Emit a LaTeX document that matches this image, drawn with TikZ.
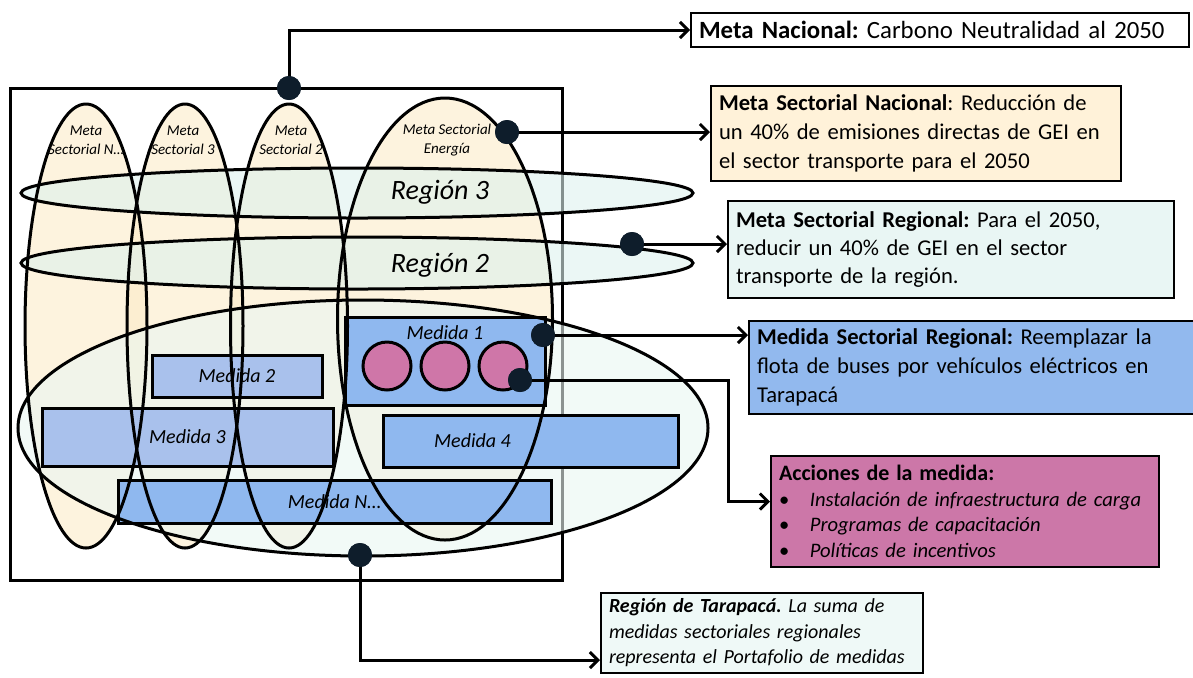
\documentclass[tikz,border=0pt]{standalone}
\usepackage{fontspec}
\setmainfont{Carlito}
\usetikzlibrary{shapes.geometric, arrows.meta, positioning}
\frenchspacing
\definecolor{cream}{HTML}{FBEBC8}
\definecolor{mint}{HTML}{DDF1EE}
\definecolor{palemint}{HTML}{EAF6F2}
\definecolor{medblue}{HTML}{8FB8EF}
\definecolor{medlav}{HTML}{A9C1EC}
\definecolor{rosa}{HTML}{CF76A8}
\definecolor{navy}{HTML}{0E1D2B}
\definecolor{boxcream}{HTML}{FFF2D9}
\definecolor{boxmint}{HTML}{E9F6F4}
\definecolor{boxblue}{HTML}{92B9EE}
\definecolor{boxrosa}{HTML}{CC77A8}
\definecolor{boxpale}{HTML}{EFF9F7}

\begin{document}
\begin{tikzpicture}[
    x=0.5pt, y=-0.5pt,
    line width=1.5pt,
    ellfill/.style={ellipse, fill=#1, fill opacity=0.6, inner sep=0pt},
    ellline/.style={ellipse, draw, inner sep=0pt},
    medida/.style={rectangle, draw, fill=#1, inner sep=0pt, font=\fontsize{10}{12}\selectfont\itshape},
    accion/.style={circle, draw, fill=rosa, minimum size=24pt, inner sep=0pt},
    dot/.style={circle, fill=navy, minimum size=12pt, inner sep=0pt},
    infobox/.style={rectangle, draw, line width=1pt, fill=#1, anchor=north west, align=left, inner xsep=4pt, inner ysep=2pt, font=\fontsize{11.3}{14.5}\selectfont},
    sectlabel/.style={align=center, font=\fontsize{7.5}{9.5}\selectfont\itshape},
    reglabel/.style={font=\fontsize{14}{16}\selectfont\itshape},
    arrow/.style={-{Straight Barb[length=4pt, width=8pt]}, line width=1.5pt}
]
    \useasboundingbox (0,0) rectangle (1193,677);

    % Frame of the region
    \node[rectangle, draw, minimum width=276pt, minimum height=246pt, inner sep=0pt] (frame) at (286,334) {};

    % Sector goals (fill)
    \node[ellfill=cream, minimum width=61pt, minimum height=222pt] at (86,326) {};
    \node[ellfill=cream, minimum width=58pt, minimum height=222pt] at (185,326) {};
    \node[ellfill=cream, minimum width=58.5pt, minimum height=222pt] at (289,326) {};
    \node[ellfill=cream, minimum width=107.5pt, minimum height=221pt] at (445,319) {};

    % Regions (fill)
    \node[ellfill=mint, minimum width=336pt, minimum height=25pt] at (357,193) {};
    \node[ellfill=mint, minimum width=336pt, minimum height=26pt] at (357,263) {};
    \node[ellfill=palemint, minimum width=345pt, minimum height=128pt] at (363,428) {};

    % Measures
    \node[medida=medblue, minimum width=100pt, minimum height=44pt,
          label={[anchor=north, yshift=-1pt, font=\fontsize{10}{12}\selectfont\itshape]north:Medida 1}] (med1) at (445,361) {};
    \node[medida=medlav, minimum width=85pt, minimum height=21pt] (med2) at (237,376) {Medida 2};
    \node[medida=medlav, minimum width=145.5pt, minimum height=29pt] (med3) at (187.5,437) {Medida 3};
    \node[medida=medblue, minimum width=147.5pt, minimum height=26pt,
          label={[xshift=-29pt, font=\fontsize{10}{12}\selectfont\itshape]center:Medida 4}] (med4) at (530.5,441) {};
    \node[medida=medblue, minimum width=216.5pt, minimum height=21.5pt] (medN) at (334.5,501.5) {Medida N\dots};

    % Sector goals (outline)
    \node[ellline, minimum width=61pt, minimum height=222pt] (secN) at (86,326) {};
    \node[ellline, minimum width=58pt, minimum height=222pt] (sec3) at (185,326) {};
    \node[ellline, minimum width=58.5pt, minimum height=222pt] (sec2) at (289,326) {};
    \node[ellline, minimum width=107.5pt, minimum height=221pt] (secE) at (445,319) {};

    % Regions (outline)
    \node[ellline, minimum width=336pt, minimum height=25pt] (reg3) at (357,193) {};
    \node[ellline, minimum width=336pt, minimum height=26pt] (reg2) at (357,263) {};
    \node[ellline, minimum width=345pt, minimum height=128pt] (tarapaca) at (363,428) {};

    % Labels
    \node[sectlabel] at (86,140) {Meta\\Sectorial N\dots};
    \node[sectlabel] at (183,140) {Meta\\Sectorial 3};
    \node[sectlabel] at (291,140) {Meta\\Sectorial 2};
    \node[sectlabel] at (447,140) {Meta Sectorial\\Energía};
    \node[reglabel] at (440,192) {Región 3};
    \node[reglabel] at (440,265) {Región 2};

    % Actions of measure 1
    \node[accion] (acc1) at (387,366) {};
    \node[accion, right of=acc1, node distance=29pt] (acc2) {};
    \node[accion, right of=acc2, node distance=29pt] (acc3) {};

    % Description boxes
    \node[infobox=white, text width=241pt, minimum height=17pt, font=\fontsize{12.4}{15}\selectfont] (nacional) at (690,12)
        {\textbf{Meta Nacional:} Carbono Neutralidad al 2050};
    \node[infobox=boxcream, text width=197pt, minimum height=47.5pt] (secnac) at (710,85)
        {\textbf{Meta Sectorial Nacional}: Reducción de\\un 40\% de emisiones directas de GEI en\\el sector transporte para el 2050};
    \node[infobox=boxmint, text width=215pt, minimum height=48.5pt, font=\fontsize{11.3}{14}\selectfont] (secreg) at (727,200)
        {\textbf{Meta Sectorial Regional:} Para el 2050,\\reducir un 40\% de GEI en el sector\\transporte de la región.};
    \node[infobox=boxblue, text width=214.5pt, minimum height=46.5pt] (medreg) at (748,320)
        {\textbf{Medida Sectorial Regional:} Reemplazar la\\flota de buses por vehículos eléctricos en\\Tarapacá};
    \node[infobox=boxrosa, text width=186pt, minimum height=55.5pt, font=\fontsize{10.3}{12.75}\selectfont] (acciones) at (770,455)
        {{\fontsize{11}{13}\selectfont\textbf{Acciones de la medida:}}\\
         \textbullet\hspace{1em}\textit{Instalación de infraestructura de carga}\\
         \textbullet\hspace{1em}\textit{Programas de capacitación}\\
         \textbullet\hspace{1em}\textit{Políticas de incentivos}};
    \node[infobox=boxpale, text width=153pt, minimum height=40pt, font=\fontsize{10}{12.75}\selectfont\itshape] (portafolio) at (600,592)
        {\textbf{Región de Tarapacá.} La suma de\\medidas sectoriales regionales\\representa el Portafolio de medidas};

    % Anchor dots
    \node[dot] (dtop) at (289,88) {};
    \node[dot] (dener) at (507,132) {};
    \node[dot] (dreg2) at (632,244) {};
    \node[dot] (dmed1) at (543,335) {};
    \node[dot] (dacc) at (520,380) {};
    \node[dot] (dbot) at (360,555) {};
    \coordinate (bend) at (728,380);

    % Arrows
    \draw[arrow] (dtop.center) |- (nacional.west);
    \draw[arrow] (dener.center) -- (dener -| secnac.west);
    \draw[arrow] (dreg2.center) -- (dreg2 -| secreg.west);
    \draw[arrow] (dmed1.center) -- (dmed1 -| medreg.west);
    \draw[arrow] (dacc.center) -- (bend) |- ([yshift=5pt]acciones.west);
    \draw[arrow] (dbot.center) |- ([yshift=7pt]portafolio.south west);

    % Dots on top
    \foreach \d in {dtop, dener, dreg2, dmed1, dacc, dbot}
        \fill[navy] (\d) circle (6pt);
\end{tikzpicture}
\end{document}
